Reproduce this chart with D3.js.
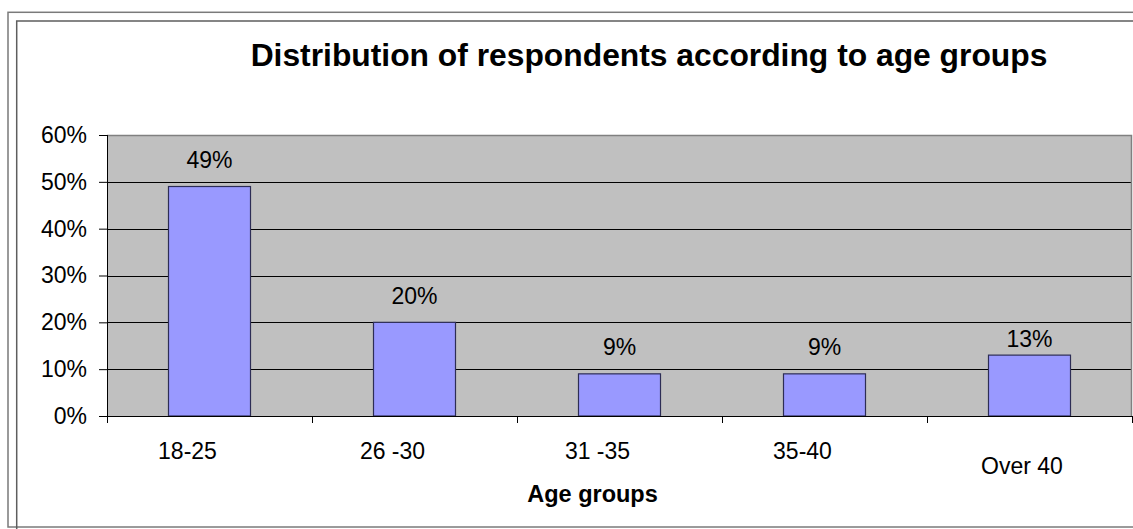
<!DOCTYPE html>
<html>
<head>
<meta charset="utf-8">
<script src="https://cdn.jsdelivr.net/npm/d3@7/dist/d3.min.js"></script>
<style>
  html, body { margin: 0; padding: 0; background: #fff; }
  svg { display: block; font-family: "Liberation Sans", Arial, sans-serif; }
</style>
</head>
<body>
<svg id="chart" width="1133" height="529"></svg>
<script>
// Age-group distribution of survey respondents
const categories = ["18-25", "26 -30", "31 -35", "35-40", "Over 40"];
const shares = [0.49, 0.20, 0.09, 0.09, 0.13];
const shareLabels = ["49%", "20%", "9%", "9%", "13%"];
const yTicks = [0, 0.1, 0.2, 0.3, 0.4, 0.5, 0.6];

const chartTitle = "Distribution of respondents according to age groups";
const xAxisTitle = "Age groups";

const svg = d3.select("#chart");
const W = 1133, H = 529;

// Plot area box
const plot = { left: 107, right: 1132, top: 135, bottom: 416 };

// Double frame around the chart
svg.append("rect")
  .attr("x", 8).attr("y", 12.3)
  .attr("width", W + 20).attr("height", 514.7)
  .attr("fill", "none").attr("stroke", "#7a7a7a").attr("stroke-width", 1.5);
svg.append("rect")
  .attr("x", 16.7).attr("y", 21)
  .attr("width", W + 20).attr("height", H + 20)
  .attr("fill", "none").attr("stroke", "#5e5e5e").attr("stroke-width", 1.5);

// Scales
const y = d3.scaleLinear().domain([0, 0.6]).range([plot.bottom, plot.top]);
const x = d3.scaleBand()
  .domain(categories)
  .range([plot.left, plot.right])
  .paddingInner(0.6)
  .paddingOuter(0.3);
const slot = d3.scaleLinear().domain([0, categories.length]).range([plot.left, plot.right]);

// Plot background
svg.append("rect")
  .attr("x", plot.left).attr("y", plot.top)
  .attr("width", plot.right - plot.left).attr("height", plot.bottom - plot.top)
  .attr("fill", "#c0c0c0");

// Horizontal gridlines
svg.append("g")
  .selectAll("line")
  .data(yTicks.filter(t => t > 0 && t < 0.6))
  .join("line")
  .attr("x1", plot.left).attr("x2", plot.right)
  .attr("y1", d => Math.round(y(d)) + 0.5).attr("y2", d => Math.round(y(d)) + 0.5)
  .attr("stroke", "#000").attr("stroke-width", 1);

// Top and right border of plot area
svg.append("path")
  .attr("d", `M${plot.left},${plot.top + 0.5}H${plot.right - 0.5}V${plot.bottom}`)
  .attr("fill", "none").attr("stroke", "#808080").attr("stroke-width", 1.5);

// Bars
svg.append("g")
  .selectAll("rect")
  .data(categories.map((c, i) => ({ c, v: shares[i] })))
  .join("rect")
  .attr("x", d => x(d.c))
  .attr("y", d => y(d.v))
  .attr("width", x.bandwidth())
  .attr("height", d => y(0) - y(d.v))
  .attr("fill", "#9999ff")
  .attr("stroke", "#2d2d55")
  .attr("stroke-width", 1.2);

// Value labels above bars
svg.append("g")
  .selectAll("text")
  .data(categories.map((c, i) => ({ c, v: shares[i], t: shareLabels[i], i })))
  .join("text")
  .attr("x", d => x(d.c) + x.bandwidth() / 2)
  .attr("y", d => y(d.v) - (d.i === categories.length - 1 ? 8.5 : 18.5))
  .attr("text-anchor", "middle")
  .attr("font-size", 23)
  .attr("fill", "#000")
  .text(d => d.t);

// Y axis
const yAxis = d3.axisLeft(y)
  .tickValues(yTicks)
  .tickFormat(d3.format(".0%"))
  .tickSize(8)
  .tickPadding(12);
const yg = svg.append("g")
  .attr("transform", `translate(${plot.left},0)`)
  .call(yAxis);
yg.select(".domain").attr("stroke", "#000").attr("d", `M0.5,${plot.top}V${plot.bottom}`);
yg.selectAll(".tick line").attr("stroke", "#000");
yg.selectAll(".tick text")
  .attr("font-size", 23)
  .attr("font-family", "'Liberation Sans', Arial, sans-serif")
  .attr("fill", "#000");

// X axis baseline and category separators
svg.append("line")
  .attr("x1", plot.left).attr("x2", plot.right)
  .attr("y1", plot.bottom + 0.5).attr("y2", plot.bottom + 0.5)
  .attr("stroke", "#000");
svg.append("g")
  .selectAll("line")
  .data(d3.range(categories.length + 1))
  .join("line")
  .attr("x1", d => Math.round(slot(d)) + 0.5)
  .attr("x2", d => Math.round(slot(d)) + 0.5)
  .attr("y1", plot.bottom).attr("y2", plot.bottom + 7)
  .attr("stroke", "#000");

// Category labels (the last one sits on a second line)
svg.append("g")
  .selectAll("text")
  .data(categories.map((c, i) => ({ c, i })))
  .join("text")
  .attr("x", d => x(d.c) + x.bandwidth() / 2 + (d.i === categories.length - 1 ? -7.5 : -22))
  .attr("y", d => d.i === categories.length - 1 ? 473.5 : 458.5)
  .attr("text-anchor", "middle")
  .attr("font-size", 23)
  .attr("fill", "#000")
  .text(d => d.c);

// Titles
svg.append("text")
  .attr("x", 649).attr("y", 65.5)
  .attr("text-anchor", "middle")
  .attr("font-size", 31.8)
  .attr("font-weight", "bold")
  .attr("fill", "#000")
  .text(chartTitle);

svg.append("text")
  .attr("x", 592.5).attr("y", 501.5)
  .attr("text-anchor", "middle")
  .attr("font-size", 23.5)
  .attr("font-weight", "bold")
  .attr("fill", "#000")
  .text(xAxisTitle);
</script>
</body>
</html>
